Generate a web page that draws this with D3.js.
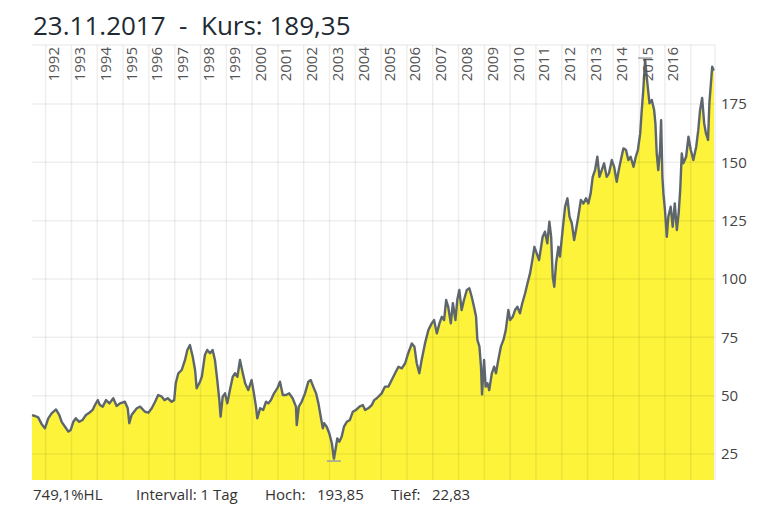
<!DOCTYPE html>
<html><head><meta charset="utf-8">
<script src="https://cdn.jsdelivr.net/npm/d3@7/dist/d3.min.js"></script>
<style>body{margin:0;background:#fff}svg{display:block}</style>
</head><body>
<svg id="c" width="765" height="515"></svg>
<script>
// ---- data ----
const titleText = "23.11.2017  -  Kurs: 189,35";
const footerLabels = ["749,1%HL", "Intervall: 1 Tag", "Hoch:", "193,85", "Tief:", "22,83"];
const yearTicks = [1992,1993,1994,1995,1996,1997,1998,1999,2000,2001,2002,2003,2004,2005,2006,2007,2008,2009,2010,2011,2012,2013,2014,2015,2016,2017];
const yearLabels = ["1992","1993","1994","1995","1996","1997","1998","1999","2000","2001","2002","2003","2004","2005","2006","2007","2008","2009","2010","2011","2012","2013","2014","2015","2016"];
const priceTicks = [25, 50, 75, 100, 125, 150, 175];
const dates = [
 1991.47,1991.59,1991.71,1991.84,1991.97,1992.10,1992.23,1992.40,1992.53,1992.62,
 1992.75,1992.88,1992.97,1993.07,1993.17,1993.30,1993.43,1993.56,1993.69,1993.82,
 1993.91,1994.02,1994.10,1994.21,1994.34,1994.47,1994.62,1994.75,1994.88,1995.07,
 1995.18,1995.24,1995.33,1995.53,1995.66,1995.85,1995.98,1996.11,1996.24,1996.36,
 1996.50,1996.60,1996.73,1996.88,1996.98,1997.04,1997.14,1997.27,1997.40,1997.49,
 1997.59,1997.70,1997.79,1997.85,1997.98,1998.05,1998.17,1998.26,1998.37,1998.47,
 1998.56,1998.65,1998.73,1998.78,1998.86,1998.95,1999.04,1999.14,1999.25,1999.34,
 1999.43,1999.53,1999.64,1999.73,1999.85,1999.98,2000.07,2000.15,2000.20,2000.31,
 2000.43,2000.54,2000.63,2000.73,2000.85,2000.98,2001.08,2001.19,2001.31,2001.44,
 2001.57,2001.70,2001.73,2001.81,2001.92,2002.05,2002.18,2002.27,2002.37,2002.48,
 2002.57,2002.66,2002.74,2002.79,2002.89,2002.99,2003.09,2003.17,2003.25,2003.30,
 2003.38,2003.47,2003.56,2003.67,2003.79,2003.90,2004.03,2004.16,2004.29,2004.38,
 2004.50,2004.64,2004.73,2004.83,2005.02,2005.15,2005.28,2005.41,2005.54,2005.67,
 2005.80,2005.93,2006.05,2006.19,2006.29,2006.38,2006.48,2006.57,2006.70,2006.83,
 2006.96,2007.05,2007.16,2007.26,2007.35,2007.44,2007.52,2007.60,2007.70,2007.78,
 2007.88,2007.95,2008.03,2008.12,2008.21,2008.32,2008.42,2008.51,2008.60,2008.68,
 2008.73,2008.81,2008.87,2008.91,2008.99,2009.05,2009.12,2009.19,2009.29,2009.38,
 2009.45,2009.54,2009.64,2009.74,2009.83,2009.93,2010.00,2010.10,2010.19,2010.28,
 2010.38,2010.47,2010.58,2010.67,2010.77,2010.86,2010.94,2011.03,2011.12,2011.16,
 2011.26,2011.35,2011.44,2011.52,2011.59,2011.65,2011.71,2011.78,2011.87,2011.93,
 2012.04,2012.13,2012.22,2012.30,2012.39,2012.48,2012.55,2012.64,2012.74,2012.84,
 2012.94,2013.03,2013.12,2013.20,2013.29,2013.38,2013.46,2013.55,2013.64,2013.74,
 2013.83,2013.94,2014.03,2014.13,2014.21,2014.29,2014.39,2014.49,2014.58,2014.67,
 2014.78,2014.87,2014.95,2015.04,2015.10,2015.16,2015.23,2015.32,2015.40,2015.49,
 2015.58,2015.63,2015.68,2015.74,2015.81,2015.85,2015.90,2015.94,2016.00,2016.07,
 2016.13,2016.22,2016.30,2016.38,2016.46,2016.53,2016.59,2016.65,2016.71,2016.82,
 2016.91,2017.00,2017.10,2017.21,2017.29,2017.36,2017.44,2017.52,2017.59,2017.67,
 2017.72,2017.78,2017.83,2017.88,2017.90
];
const prices = [
 41.7,41.3,40.7,37.9,36.0,40.3,42.4,44.1,41.7,38.8,
 36.7,34.6,35.3,38.8,40.3,38.8,39.6,41.7,42.7,43.9,
 46.0,48.1,46.0,45.3,48.1,46.7,48.9,45.6,46.7,47.4,
 44.6,38.2,41.7,44.6,45.3,43.1,42.7,44.6,47.4,50.3,
 49.6,48.1,48.9,47.4,48.1,55.3,59.6,61.0,65.3,69.6,
 71.7,66.7,61.0,53.2,56.0,58.1,67.4,69.6,68.2,69.6,
 65.3,56.7,48.1,41.0,49.6,51.0,46.7,52.4,58.1,59.6,
 58.1,65.3,59.6,55.3,52.4,56.7,51.0,45.3,40.3,44.6,
 43.9,47.4,46.7,48.1,51.0,53.2,56.0,50.3,50.3,51.0,
 48.9,45.3,37.4,45.3,47.4,51.0,56.0,56.7,53.9,51.0,
 46.7,41.0,36.0,38.2,36.7,33.9,29.6,22.83,28.1,31.7,
 30.3,32.4,36.7,38.8,39.6,43.1,43.9,45.3,46.0,43.9,
 44.6,46.0,48.1,48.9,51.0,53.9,53.9,56.7,59.6,62.4,
 61.7,63.9,68.2,72.4,71.0,63.9,59.6,65.3,72.4,78.1,
 81.0,82.4,76.7,81.0,83.8,82.4,91.0,88.1,81.0,89.6,
 82.4,91.0,95.3,86.7,91.0,95.3,96.0,92.4,88.1,83.8,
 73.9,71.0,62.4,50.5,65.3,53.9,55.3,52.4,59.6,62.4,
 59.6,65.3,71.0,73.9,78.1,86.7,82.4,83.8,86.7,88.1,
 85.3,89.6,93.9,98.1,102.4,108.1,113.8,111.0,108.1,111.0,
 118.1,120.3,115.3,124.6,118.1,101.0,96.7,106.7,113.8,109.6,
 121.7,131.0,134.6,126.7,123.9,116.7,121.0,126.7,133.9,132.4,
 134.6,132.4,136.7,143.8,146.7,152.4,143.8,146.7,149.6,143.8,
 145.3,151.0,148.1,141.7,146.7,151.0,156.0,155.3,151.0,152.4,
 148.1,152.4,155.3,162.4,172.4,181.0,193.85,183.8,175.3,176.7,
 172.4,166.7,153.8,146.7,155.3,168.1,143.8,136.7,129.6,118.1,
 126.7,131.0,122.4,132.4,121.0,128.1,138.1,153.8,149.6,152.4,
 161.0,155.3,151.0,156.7,163.8,172.4,177.6,166.7,162.4,159.6,
 175.3,183.8,191.0,189.6,189.35
];

// ---- layout ----
const L = 32, R = 714, T = 45, B = 480;
const svg = d3.select("#c");
const x = d3.scaleLinear().domain([dates[0], dates[dates.length - 1]]).range([L, R]);
const y = d3.scaleLinear().domain([13.86, 200.3]).range([B, T]);
const pts = dates.map((d, i) => [d, prices[i]]);

// area
svg.append("path").datum(pts)
  .attr("d", d3.area().x(d => x(d[0])).y0(B).y1(d => y(d[1])))
  .attr("fill", "#fcf33a");

// grid
const grid = svg.append("g").attr("stroke", "rgba(0,0,0,0.065)").attr("stroke-width", 1.5);
grid.selectAll("line.v").data(yearTicks).join("line")
  .attr("x1", d => x(d)).attr("x2", d => x(d)).attr("y1", T).attr("y2", B);
grid.selectAll("line.h").data(priceTicks).join("line")
  .attr("x1", L).attr("x2", R + 1).attr("y1", d => y(d)).attr("y2", d => y(d));
grid.append("line").attr("x1", L).attr("x2", R + 1).attr("y1", T).attr("y2", T);
grid.append("line").attr("x1", R + 1).attr("x2", R + 1).attr("y1", T).attr("y2", B);

// price line
svg.append("path").datum(pts)
  .attr("d", d3.line().x(d => x(d[0])).y(d => y(d[1])))
  .attr("fill", "none").attr("stroke", "#5d666d").attr("stroke-width", 2.4)
  .attr("stroke-linejoin", "round");

// high / low markers
const hiIdx = d3.maxIndex(prices), loIdx = d3.minIndex(prices);
const mk = svg.append("g").attr("stroke", "#9aa0a4").attr("stroke-width", 1.5);
[[hiIdx, -1], [loIdx, 1]].forEach(([i, dir]) => {
  const px = x(dates[i]), py = y(prices[i]);
  mk.append("line").attr("x1", px - 7).attr("x2", px + 7).attr("y1", py + dir * 2).attr("y2", py + dir * 2);
  mk.append("line").attr("x1", px).attr("x2", px).attr("y1", py).attr("y2", py + dir * 2);
});

// year labels (rotated)
svg.append("g").selectAll("text").data(yearLabels).join("text")
  .attr("transform", d => `translate(${x(+d) + 13.5},${T + 2}) rotate(-90)`)
  .attr("text-anchor", "end")
  .attr("font-family", "Open Sans").attr("font-size", 15).attr("fill", "#555")
  .text(d => d);

// right axis labels
svg.append("g").selectAll("text").data(priceTicks).join("text")
  .attr("x", R + 7).attr("y", d => y(d)).attr("dy", "0.36em")
  .attr("font-family", "Open Sans").attr("font-size", 15).attr("fill", "#444")
  .text(d => d);

// title
svg.append("text").attr("x", 33).attr("y", 35)
  .attr("font-family", "Open Sans").attr("font-size", 26).attr("fill", "#1e2a33")
  .style("white-space", "pre").text(titleText);

// footer
const footerX = [33, 136, 265, 317, 391, 432];
svg.append("g").selectAll("text").data(footerLabels).join("text")
  .attr("x", (d, i) => footerX[i]).attr("y", 500)
  .attr("font-family", "Open Sans").attr("font-size", 15).attr("fill", "#333")
  .text(d => d);
</script>
</body></html>
